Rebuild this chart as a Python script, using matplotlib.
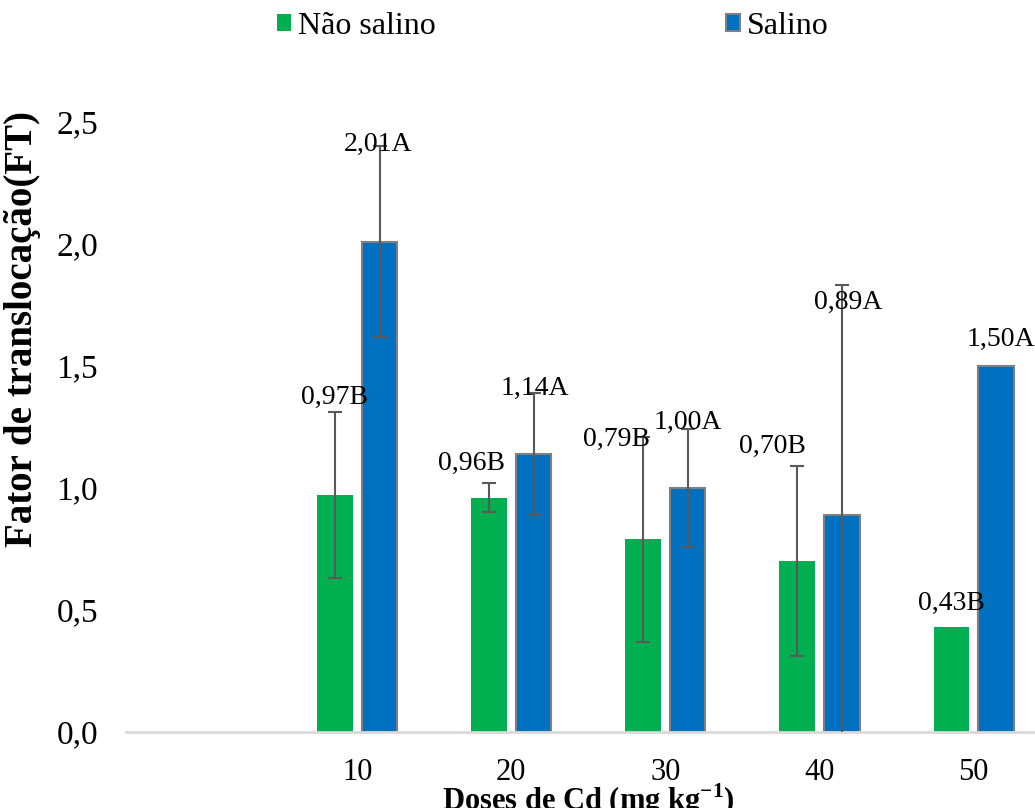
import numpy as np
import matplotlib
matplotlib.use('Agg')
import matplotlib.pyplot as plt
from matplotlib.patches import Patch

plt.rcParams['font.family'] = ['Liberation Serif', 'DejaVu Serif']
plt.rcParams['mathtext.fontset'] = 'custom'
plt.rcParams['mathtext.rm'] = 'Liberation Serif'
plt.rcParams['mathtext.bf'] = 'Liberation Serif:bold'

# data
doses = ['', '10', '20', '30', '40', '50']
nao_salino = [0.97, 0.96, 0.79, 0.70, 0.43]
salino = [2.01, 1.14, 1.00, 0.89, 1.50]
nao_salino_err = [0.34, 0.06, 0.42, 0.39, 0.0]
salino_err = [0.39, 0.25, 0.24, 0.94, 0.0]
nao_salino_lab = ['0,97B', '0,96B', '0,79B', '0,70B', '0,43B']
salino_lab = ['2,01A', '1,14A', '1,00A', '0,89A', '1,50A']

# label placement (manually moved in the original)
nao_lab_y = [1.37, 1.10, 1.20, 1.17, 0.525]
nao_lab_dx = [0.0, -0.11, -0.17, -0.16, 0.0]
sal_lab_y = [2.41, 1.41, 1.27, 1.76, 1.61]
sal_lab_dx = [-0.01, 0.01, 0.0, 0.04, 0.03]

green = '#00B050'
blue = '#0070C0'
errc = '#595959'

fig = plt.figure(figsize=(10.35, 8.08), dpi=100)
ax = fig.add_axes([0.1217, 0.0941, 0.8935, 0.7549])

x = np.arange(1, len(doses))
w = 0.23
off = 0.145

ax.bar(x - off, nao_salino, w, color=green, edgecolor='none', zorder=2)
ax.bar(x + off, salino, w, color=blue, edgecolor='#7f7f7f', linewidth=1.5, zorder=2)

for xi, v, e in zip(x - off, nao_salino, nao_salino_err):
    if e > 0:
        ax.errorbar(xi, v, yerr=e, color=errc, lw=1.5, capsize=5, capthick=1.5, zorder=3)
for xi, v, e in zip(x + off, salino, salino_err):
    if e > 0:
        ax.errorbar(xi, v, yerr=e, color=errc, lw=1.5, capsize=5, capthick=1.5, zorder=3)

for i in range(len(x)):
    ax.text(x[i] - off + nao_lab_dx[i], nao_lab_y[i], nao_salino_lab[i],
            ha='center', va='center', fontsize=20, zorder=4)
    ax.text(x[i] + off + sal_lab_dx[i], sal_lab_y[i], salino_lab[i],
            ha='center', va='center', fontsize=20, zorder=4)

ax.set_xlim(-0.5, 5.5)
ax.set_ylim(0, 2.5)
ax.set_xticks(np.arange(len(doses)))
ax.set_xticklabels(doses, fontsize=22)
yt = np.arange(0, 2.51, 0.5)
ax.set_yticks(yt)
ax.set_yticklabels([f'{t:.1f}'.replace('.', ',') for t in yt], fontsize=24)
ax.tick_params(axis='both', length=0)
ax.tick_params(axis='x', pad=19)
ax.tick_params(axis='y', pad=20)

for s in ['top', 'right', 'left']:
    ax.spines[s].set_visible(False)
ax.spines['bottom'].set_color('#d9d9d9')
ax.spines['bottom'].set_linewidth(2)

ax.set_xlabel('Doses de Cd (mg kg$^{\\mathbf{-1}}$)', fontsize=22, fontweight='bold', labelpad=-4)
ax.set_ylabel('Fator de translocação(FT)', fontsize=28, fontweight='bold')
ax.yaxis.set_label_coords(-0.092, 0.66)

handles = [Patch(facecolor=green, edgecolor='none'),
           Patch(facecolor=blue, edgecolor='#7f7f7f', linewidth=1.5)]
fig.legend(handles, ['Não salino', 'Salino'], loc='center', bbox_to_anchor=(0.534, 0.967),
           ncol=2, frameon=False, fontsize=23, handlelength=0.45, handleheight=0.45,
           handletextpad=0.2, columnspacing=9.1, borderpad=0)

fig.savefig('out.png', dpi=100)
